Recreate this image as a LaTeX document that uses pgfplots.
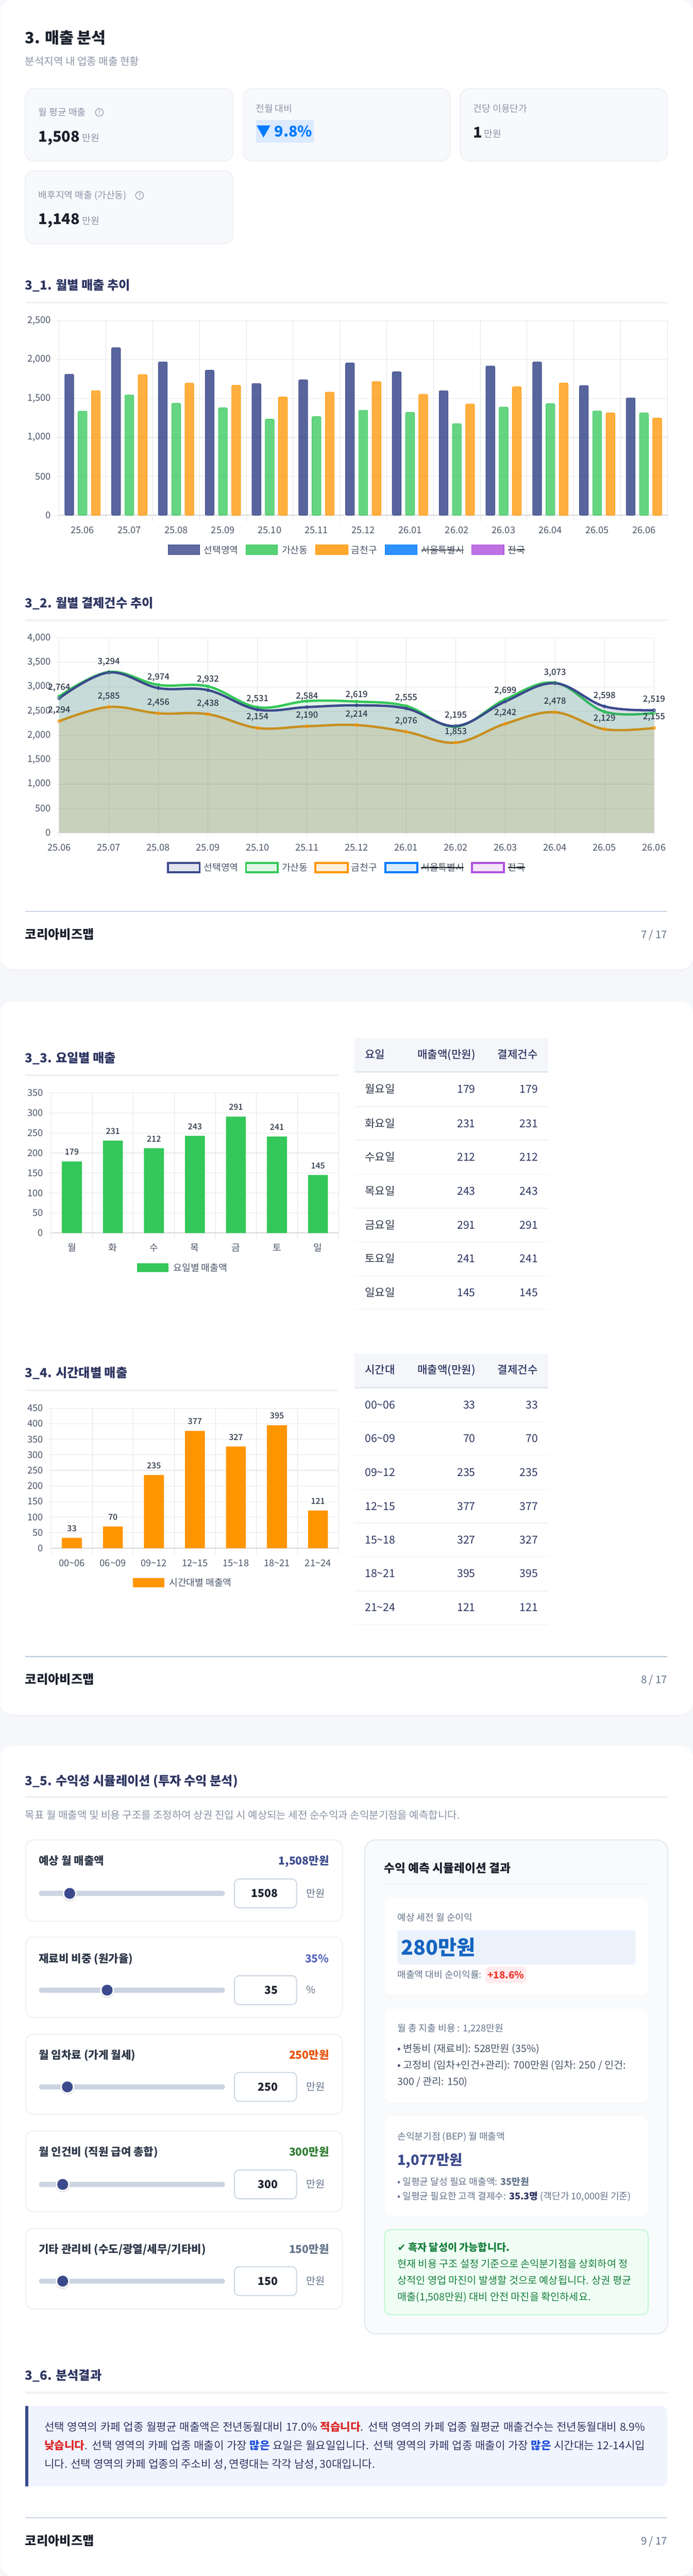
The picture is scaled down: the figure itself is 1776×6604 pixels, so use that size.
\documentclass[border=0pt]{standalone}
\usepackage{pgfplots}
\usepackage{pgfplotstable}
\usepackage{fontspec}
\pgfplotsset{compat=1.18}
\setmainfont{Noto Sans CJK KR}
\newfontfamily\symfont{DejaVu Sans}
\newfontfamily\medfont{Noto Sans CJK KR Medium}
\definecolor{pagebg}{HTML}{F5F7FB}
\definecolor{cardbg}{HTML}{F8F9FC}
\definecolor{cardln}{HTML}{EEF0F5}
\definecolor{ink}{HTML}{1A202C}
\definecolor{navy}{HTML}{2D3561}
\definecolor{sel}{HTML}{3B4A8C}
\definecolor{gas}{HTML}{34C759}
\definecolor{geum}{HTML}{FF9500}
\definecolor{seoul}{HTML}{007AFF}
\definecolor{nat}{HTML}{AF52DE}
\definecolor{grayt}{HTML}{8A94A6}
\definecolor{tick}{HTML}{4A5568}
\definecolor{slate}{HTML}{64748B}
\definecolor{line}{HTML}{CBD5E1}
\definecolor{rule}{HTML}{F0F1F5}
\definecolor{gridc}{HTML}{E9E9E9}
\definecolor{gridv}{HTML}{E4E4E4}
\definecolor{zero}{HTML}{D9D9D9}
\definecolor{label}{HTML}{2D3748}
\definecolor{cDBEAFE}{HTML}{DBEAFE}
\definecolor{cF4F6FA}{HTML}{F4F6FA}
\definecolor{cE2E8F0}{HTML}{E2E8F0}
\definecolor{c5C6BC0}{HTML}{5C6BC0}
\definecolor{cE65100}{HTML}{E65100}
\definecolor{c2E7D32}{HTML}{2E7D32}
\definecolor{cF8FAFC}{HTML}{F8FAFC}
\definecolor{cEBF2FB}{HTML}{EBF2FB}
\definecolor{c1565C0}{HTML}{1565C0}
\definecolor{cFFEBEE}{HTML}{FFEBEE}
\definecolor{cF03A2E}{HTML}{F03A2E}
\definecolor{cBBF7D0}{HTML}{BBF7D0}
\definecolor{cF0FDF4}{HTML}{F0FDF4}
\definecolor{c15803D}{HTML}{15803D}
\definecolor{cF0F4FF}{HTML}{F0F4FF}
\definecolor{cDC2626}{HTML}{DC2626}
\definecolor{c1D4ED8}{HTML}{1D4ED8}

\pgfplotstableread{
x sel gas geum
0 1812 1338 1600
1 2153 1545 1807
2 1971 1439 1697
3 1863 1381 1671
4 1693 1236 1519
5 1741 1268 1582
6 1957 1349 1717
7 1844 1321 1554
8 1600 1176 1430
9 1918 1390 1651
10 1971 1434 1699
11 1667 1340 1315
12 1508 1317 1248
}\monthrev
\pgfplotstableread{
x sel gas geum
0 2764 2804 2294
1 3294 3305 2585
2 2974 3040 2456
3 2932 3009 2438
4 2531 2580 2154
5 2584 2707 2190
6 2619 2697 2214
7 2555 2605 2076
8 2195 2181 1853
9 2699 2743 2242
10 3073 3085 2478
11 2598 2488 2129
12 2519 2462 2155
}\monthcnt
\pgfplotstableread{
x v
0 179
1 231
2 212
3 243
4 291
5 241
6 145
}\dayrev
\pgfplotstableread{
x v
0 33
1 70
2 235
3 377
4 327
5 395
6 121
}\hourrev

\pgfplotsset{
  base/.style={
    scale only axis, anchor=south west,
    /pgf/number format/assume math mode=true,
    /pgf/number format/1000 sep={,},
    scaled y ticks=false,
    tick label style={font=\fontsize{24}{24}\selectfont, text=tick},
    axis y line*=left, axis x line*=bottom,
    axis line style={draw=zero, line width=2pt, -},
    y axis line style={draw=gridv, line width=1.2pt},
    x axis line style={draw=zero, line width=2.5pt},
    major tick length=8pt, minor tick length=16pt,
    tick align=outside, tick pos=lower,
    ymajorgrids,
    y grid style={draw=gridc, line width=1.5pt},
    major y tick style={draw=gridc, line width=1.2pt},
    yticklabel style={xshift=-9.5pt},
    clip=false,
  },
  catgrid/.style={
    xminorgrids,
    minor x grid style={draw=gridv, line width=1.2pt},
    minor x tick style={draw=gridv, line width=1.2pt},
    major x tick style={draw=none},
    xticklabel style={anchor=center, yshift=-30pt},
  },
  vbar/.style={ybar, bar width=51pt, fill=#1, draw=none,
    nodes near coords, point meta=y,
    every node near coord/.append style={anchor=center, yshift=24pt, text=label, font=\fontsize{21}{21}\selectfont\medfont}},
}
\newcommand{\Tx}[6]{\node[anchor=#1, inner sep=0pt, outer sep=0pt, text=#5, font=\fontsize{#4}{#4}\selectfont] at (#2,{#3+0.36*#4}) {#6};}
\newcommand{\card}[4]{\draw[draw=cardln, fill=cardbg, line width=2.5pt, rounded corners=24pt] (#1,#2) rectangle (#3,#4);}
\newcommand{\secttitle}[3]{\Tx{base west}{64}{#1}{32}{navy}{\bfseries #3}\fill[rule] (64,{#2-2.5}) rectangle (\rulex,{#2+2.5});}
\newcommand{\footerline}[3]{\fill[line] (64,{#1-1.5}) rectangle (1710,{#1+1.5});\Tx{base west}{64}{#2}{32}{ink}{\bfseries 코리아비즈맵}\Tx{base east}{1710}{#2}{27}{slate}{#3}}
\newcommand{\helpicon}[2]{\draw[draw=grayt, line width=1.6pt] (#1,#2) circle (10);\Tx{base}{#1}{#2}{15}{grayt}{?}}
\newcommand{\slidercard}[9]{%
  \draw[draw=cardln, fill=white, line width=2.5pt, rounded corners=20pt] (65,#1) rectangle (877,#2);
  \Tx{base west}{99}{#3}{28}{label}{\bfseries #4}
  \Tx{base east}{843}{#3}{28}{#5}{\bfseries #6}
  \fill[line, rounded corners=6pt] (99,{#7-6.5}) rectangle (576,{#7+6.5});
  \fill[black!12] (#8,{#7+2}) circle (18);
  \fill[white] (#8,#7) circle (17.5);
  \fill[sel] (#8,#7) circle (14);
  \draw[draw=line, fill=white, line width=2.5pt, rounded corners=12pt] (600.5,{#7-37}) rectangle (759.5,{#7+37});
  \Tx{base east}{712}{#7}{28}{ink}{\bfseries #9}
}
\newcommand{\rowt}[5]{%
  \Tx{base west}{935}{#1}{28}{#5}{#2}
  \Tx{base east}{1218}{#1}{28}{navy}{#3}
  \Tx{base east}{1378}{#1}{28}{navy}{#4}
}
\begin{document}
\begin{tikzpicture}
\path[use as bounding box] (-0.7pt,0pt) rectangle (1775.3pt,-6604pt);
\begin{scope}[x=1pt,y=-1pt]
\fill[pagebg] (-3,-3) rectangle (1779,6607);
\foreach \a/\b in {0/2485,2567/4396,4476/6604}{
  \fill[black!5, rounded corners=32pt] (0,\a+3) rectangle (1776,\b+3);
  \fill[white, rounded corners=32pt] (0,\a) rectangle (1776,\b);
}
\def\rulex{1710}
% page 1 header
\Tx{base west}{64}{97}{40}{ink}{\bfseries 3. 매출 분석}
\Tx{base west}{64}{157}{26.5}{grayt}{분석지역 내 업종 매출 현황}
\card{64}{227}{597}{413}
\card{623}{227}{1153}{413}
\card{1179}{227}{1710}{413}
\card{64}{438}{597}{625}
\Tx{base west}{98}{288}{24}{grayt}{월 평균 매출}
\helpicon{254}{288}
\Tx{base west}{98}{350}{38}{ink}{\bfseries 1,508}
\Tx{base west}{210}{354}{24}{grayt}{만원}
\Tx{base west}{655}{279}{24}{grayt}{전월 대비}
\fill[cDBEAFE] (656,308) rectangle (804,366);
\Tx{base west}{656}{337}{38}{seoul}{\bfseries ▼ 9.8\%}
\Tx{base west}{1213}{279}{24}{grayt}{건당 이용단가}
\Tx{base west}{1213}{339}{38}{ink}{\bfseries 1}
\Tx{base west}{1240}{343}{24}{grayt}{만원}
\Tx{base west}{98}{501}{24}{grayt}{배후지역 매출 (가산동)}
\helpicon{357}{501}
\Tx{base west}{98}{562}{38}{ink}{\bfseries 1,148}
\Tx{base west}{210}{566}{24}{grayt}{만원}
% titles page 1
\secttitle{731}{776}{3\_1. 월별 매출 추이}
\secttitle{1547}{1590}{3\_2. 월별 결제건수 추이}
% legend chart 1
\foreach \a/\b/\c in {430/511/sel,630/711/gas,808/891/geum,987/1069/seoul,1209/1291/nat}{
  \fill[\c, fill opacity=.82] (\a,1397) rectangle (\b,1422);
  \draw[\c, line width=1.5pt] (\a,1397) rectangle (\b,1422);
}
\Tx{base west}{522}{1410}{24}{tick}{선택영역}
\Tx{base west}{722}{1410}{24}{tick}{가산동}
\Tx{base west}{900}{1410}{24}{tick}{금천구}
\Tx{base west}{1079}{1410}{24}{tick}{서울특별시}
\Tx{base west}{1301}{1410}{24}{tick}{전국}
\draw[label, line width=2.5pt] (1079,1410) -- (1188,1410) (1301,1410) -- (1345,1410);
% legend chart 2
\foreach \a/\b/\c in {430/511/sel,630/711/gas,808/891/geum,987/1069/seoul,1209/1291/nat}{
  \draw[\c, fill=\c!15, line width=5pt] (\a,2212) rectangle (\b,2236);
}
\Tx{base west}{522}{2224}{24}{tick}{선택영역}
\Tx{base west}{722}{2224}{24}{tick}{가산동}
\Tx{base west}{900}{2224}{24}{tick}{금천구}
\Tx{base west}{1079}{2224}{24}{tick}{서울특별시}
\Tx{base west}{1301}{2224}{24}{tick}{전국}
\draw[label, line width=2.5pt] (1079,2224) -- (1188,2224) (1301,2224) -- (1345,2224);
\footerline{2336.5}{2396}{7 / 17}
% page 2
\def\rulex{867}
\secttitle{2712}{2756}{3\_3. 요일별 매출}
\secttitle{3520}{3564}{3\_4. 시간대별 매출}
\def\rulex{1710}
\fill[gas] (351,3238) rectangle (431,3261);
\Tx{base west}{444}{3250}{24}{tick}{요일별 매출액}
\fill[geum] (340,4046) rectangle (420,4069);
\Tx{base west}{433}{4058}{24}{tick}{시간대별 매출액}
% table 1
\fill[cF4F6FA] (908,2662) rectangle (1405,2746);
\fill[cE2E8F0] (908,2746) rectangle (1405,2750);
\Tx{base west}{935}{2703}{28}{navy}{\medfont 요일}
\Tx{base east}{1218}{2703}{28}{navy}{\medfont 매출액(만원)}
\Tx{base east}{1378}{2703}{28}{navy}{\medfont 결제건수}
\foreach \y in {2837,2923,3011,3097,3184,3271,3357}{\fill[rule] (908,\y-1) rectangle (1405,\y+1);}
\rowt{2792}{월요일}{179}{179}{label}
\rowt{2880}{화요일}{231}{231}{label}
\rowt{2966}{수요일}{212}{212}{label}
\rowt{3054}{목요일}{243}{243}{label}
\rowt{3140}{금요일}{291}{291}{label}
\rowt{3226}{토요일}{241}{241}{label}
\rowt{3314}{일요일}{145}{145}{label}
% table 2
\fill[cF4F6FA] (908,3470) rectangle (1405,3555);
\fill[cE2E8F0] (908,3555) rectangle (1405,3559);
\Tx{base west}{935}{3512}{28}{navy}{\medfont 시간대}
\Tx{base east}{1218}{3512}{28}{navy}{\medfont 매출액(만원)}
\Tx{base east}{1378}{3512}{28}{navy}{\medfont 결제건수}
\foreach \y in {3645,3730.5,3819,3904.5,3991,4078.5,4165}{\fill[rule] (908,\y-1) rectangle (1405,\y+1);}
\rowt{3601}{00\textasciitilde 06}{33}{33}{navy}
\rowt{3688}{06\textasciitilde 09}{70}{70}{navy}
\rowt{3774}{09\textasciitilde 12}{235}{235}{navy}
\rowt{3862}{12\textasciitilde 15}{377}{377}{navy}
\rowt{3947}{15\textasciitilde 18}{327}{327}{navy}
\rowt{4034}{18\textasciitilde 21}{395}{395}{navy}
\rowt{4121}{21\textasciitilde 24}{121}{121}{navy}
\footerline{4247}{4306}{8 / 17}
% page 3
\secttitle{4566}{4607}{3\_5. 수익성 시뮬레이션 (투자 수익 분석)}
\Tx{base west}{64}{4654}{26.5}{grayt}{목표 월 매출액 및 비용 구조를 조정하여 상권 진입 시 예상되는 세전 순수익과 손익분기점을 예측합니다.}
\slidercard{4717}{4925}{4771}{예상 월 매출액}{sel}{1,508만원}{4854}{178}{1508}
\Tx{base west}{785}{4854}{26}{slate}{만원}
\slidercard{4966}{5172}{5021}{재료비 비중 (원가율)}{c5C6BC0}{35\%}{5102}{274}{35}
\Tx{base west}{785}{5102}{26}{slate}{\%}
\slidercard{5215}{5420}{5269}{월 임차료 (가게 월세)}{cE65100}{250만원}{5350}{172}{250}
\Tx{base west}{785}{5350}{26}{slate}{만원}
\slidercard{5463}{5670}{5517}{월 인건비 (직원 급여 총합)}{c2E7D32}{300만원}{5600}{160}{300}
\Tx{base west}{785}{5600}{26}{slate}{만원}
\slidercard{5713}{5919}{5767}{기타 관리비 (수도/광열/세무/기타비)}{slate}{150만원}{5848}{160}{150}
\Tx{base west}{785}{5848}{26}{slate}{만원}
% result panel
\draw[draw=cE2E8F0, fill=cF8FAFC, line width=2.5pt, rounded corners=28pt] (934,4717) rectangle (1711,5983);
\Tx{base west}{984}{4789}{30}{ink}{\bfseries 수익 예측 시뮬레이션 결과}
\fill[cE2E8F0] (984,4829.5) rectangle (1662,4831.5);
\foreach \a/\b in {4866/5114,5149.5/5390,5426/5682}{
  \fill[black!3, rounded corners=16pt] (986,\a+2) rectangle (1660,\b+2);
  \fill[white, rounded corners=16pt] (986,\a) rectangle (1660,\b);
}
\Tx{base west}{1018}{4916}{24}{slate}{예상 세전 월 순이익}
\fill[cEBF2FB, rounded corners=6pt] (1018,4948) rectangle (1628,5036);
\Tx{base west}{1027}{4993}{52}{c1565C0}{\bfseries 280만원}
\Tx{base west}{1018}{5063}{24}{slate}{매출액 대비 순이익률:}
\fill[cFFEBEE, rounded corners=8pt] (1244,5042) rectangle (1348,5084);
\Tx{base}{1296}{5063}{25}{cF03A2E}{\bfseries +18.6\%}
\Tx{base west}{1018}{5200.5}{24}{slate}{월 총 지출 비용 : 1,228만원}
\Tx{base west}{1018}{5252}{26}{tick}{• 변동비 (재료비): 528만원 (35\%)}
\Tx{base west}{1018}{5294}{26}{tick}{• 고정비 (임차+인건+관리): 700만원 (임차: 250 / 인건:}
\Tx{base west}{1018}{5336}{26}{tick}{300 / 관리: 150)}
\Tx{base west}{1018}{5477}{24}{slate}{손익분기점 (BEP) 월 매출액}
\Tx{base west}{1018}{5537}{36}{sel}{\bfseries 1,077만원}
\Tx{base west}{1018}{5593}{24}{slate}{• 일평균 달성 필요 매출액: {\bfseries 35만원}}
\Tx{base west}{1018}{5631}{24}{slate}{• 일평균 필요한 고객 결제수: \textcolor{navy}{\bfseries 35.3명} (객단가 10,000원 기준)}
\draw[draw=cBBF7D0, fill=cF0FDF4, line width=2.5pt, rounded corners=16pt] (985,5716) rectangle (1661,5934);
\Tx{base west}{1018}{5762}{26}{c15803D}{{\symfont ✔} \bfseries 흑자 달성이 가능합니다.}
\Tx{base west}{1018}{5804}{26}{c15803D}{현재 비용 구조 설정 기준으로 손익분기점을 상회하여 정}
\Tx{base west}{1018}{5846}{26}{c15803D}{상적인 영업 마진이 발생할 것으로 예상됩니다. 상권 평균}
\Tx{base west}{1018}{5888}{26}{c15803D}{매출(1,508만원) 대비 안전 마진을 확인하세요.}
% 3_6
\secttitle{6090}{6134}{3\_6. 분석결과}
\fill[cF0F4FF, rounded corners=16pt] (64,6168) rectangle (1710,6374);
\fill[cF0F4FF] (64,6168) rectangle (100,6374);
\fill[sel] (64,6168) rectangle (72,6374);
\Tx{base west}{113}{6221.5}{28}{navy}{\makebox[1540pt][s]{선택 영역의 카페 업종 월평균 매출액은 전년동월대비 17.0\% \textcolor{cDC2626}{\bfseries 적습니다}. 선택 영역의 카페 업종 월평균 매출건수는 전년동월대비 8.9\%}}
\Tx{base west}{113}{6269}{28}{navy}{\makebox[1540pt][s]{\textcolor{cDC2626}{\bfseries 낮습니다}. 선택 영역의 카페 업종 매출이 가장 \textcolor{c1D4ED8}{\bfseries 많은} 요일은 월요일입니다. 선택 영역의 카페 업종 매출이 가장 \textcolor{c1D4ED8}{\bfseries 많은} 시간대는 12-14시입}}
\Tx{base west}{113}{6317.5}{28}{navy}{니다. 선택 영역의 카페 업종의 주소비 성, 연령대는 각각 남성, 30대입니다.}
\footerline{6455}{6514}{9 / 17}
\end{scope}

% Chart 1
\begin{axis}[base, catgrid, at={(151pt,-1321pt)}, width=1559pt, height=499pt,
  xmin=-0.5, xmax=12.5, ymin=0, ymax=2500, ytick={0,500,...,2500},
  xtick={0,...,12}, minor xtick={-0.5,0.5,...,12.5},
  xticklabels={25.06,25.07,25.08,25.09,25.10,25.11,25.12,26.01,26.02,26.03,26.04,26.05,26.06},
  ybar=11pt, bar width=23pt]
\addplot[draw=sel, fill=sel, fill opacity=.85, line width=1pt, rounded corners=3pt] table[x=x,y=sel]{\monthrev};
\addplot[draw=gas, fill=gas, fill opacity=.75, line width=1pt, rounded corners=3pt] table[x=x,y=gas]{\monthrev};
\addplot[draw=geum, fill=geum, fill opacity=.75, line width=1pt, rounded corners=3pt] table[x=x,y=geum]{\monthrev};
\end{axis}

% Chart 2
\begin{axis}[base, at={(151pt,-2135pt)}, width=1525pt, height=499pt,
  xmin=0, xmax=12, ymin=0, ymax=4000, ytick={0,500,...,4000}, xtick={0,...,12},
  xticklabels={25.06,25.07,25.08,25.09,25.10,25.11,25.12,26.01,26.02,26.03,26.04,26.05,26.06},
  xmajorgrids, x grid style={draw=gridv, line width=1.2pt},
  major x tick style={draw=gridv, line width=1.2pt},
  xticklabel style={anchor=center, yshift=-30pt},
  lbl/.style={nodes near coords, point meta=y,
    every node near coord/.append style={anchor=center, yshift=27pt, text=label, font=\fontsize{22}{22}\selectfont\medfont}},
  ser/.style={smooth, tension=0.62, color=#1, line width=6pt, mark=o, mark size=3.5pt, mark options={solid, line width=2pt}},
  ara/.style={smooth, tension=0.62, draw=none, fill=#1, fill opacity=.15, forget plot}]
\addplot[ara=geum] table[x=x,y=geum]{\monthcnt} \closedcycle;
\addplot[ser=geum, lbl] table[x=x,y=geum]{\monthcnt};
\addplot[ara=gas] table[x=x,y=gas]{\monthcnt} \closedcycle;
\addplot[ser=gas] table[x=x,y=gas]{\monthcnt};
\addplot[ara=sel] table[x=x,y=sel]{\monthcnt} \closedcycle;
\addplot[ser=sel, lbl] table[x=x,y=sel]{\monthcnt};
\end{axis}

% Chart 3
\begin{axis}[base, catgrid, at={(131pt,-3161pt)}, width=736pt, height=359pt,
  xmin=-0.5, xmax=6.5, ymin=0, ymax=350, ytick={0,50,...,350},
  xtick={0,...,6}, minor xtick={-0.5,0.5,...,6.5},
  xticklabels={월,화,수,목,금,토,일}]
\addplot[vbar=gas] table[x=x,y=v]{\dayrev};
\end{axis}

% Chart 4
\begin{axis}[base, catgrid, at={(131pt,-3969pt)}, width=736pt, height=359pt,
  xmin=-0.5, xmax=6.5, ymin=0, ymax=450, ytick={0,50,...,450},
  xtick={0,...,6}, minor xtick={-0.5,0.5,...,6.5},
  xticklabels={{00\textasciitilde 06},{06\textasciitilde 09},{09\textasciitilde 12},{12\textasciitilde 15},{15\textasciitilde 18},{18\textasciitilde 21},{21\textasciitilde 24}}]
\addplot[vbar=geum] table[x=x,y=v]{\hourrev};
\end{axis}
\end{tikzpicture}
\end{document}
